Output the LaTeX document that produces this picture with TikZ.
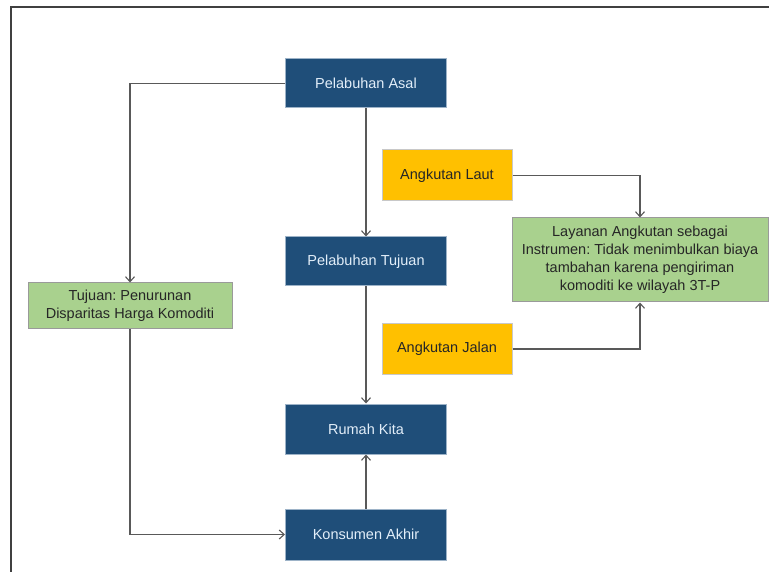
\documentclass[tikz,border=0pt]{standalone}
\usepackage{fontspec}
\setmainfont{Liberation Sans}
\usetikzlibrary{arrows.meta}
\frenchspacing
\definecolor{navy}{HTML}{1F4E79}
\definecolor{navyedge}{HTML}{9DB3C8}
\definecolor{gold}{HTML}{FFC000}
\definecolor{goldedge}{HTML}{C8C8C8}
\definecolor{leaf}{HTML}{A9D18E}
\definecolor{leafedge}{HTML}{9A9A9A}
\definecolor{wire}{HTML}{595959}
\definecolor{paletext}{HTML}{E2EEF9}
\tikzset{
  base/.style={rectangle, font=\fontsize{14.5}{18}\selectfont\frenchspacing, align=center, inner sep=0pt, line width=1pt},
  bluebox/.style={base, fill=navy, draw=navyedge, text=paletext, minimum width=161pt, minimum height=49pt},
  yellowbox/.style={base, fill=gold, draw=goldedge, text=black!85, minimum width=130pt, minimum height=51pt},
  greenbox/.style={base, fill=leaf, draw=leafedge, text=black!85},
  link/.style={draw=wire, line width=1.1pt, -{Straight Barb[length=5pt,width=9pt]}}
}
\begin{document}
\begin{tikzpicture}[x=1pt,y=-1pt]
\useasboundingbox (0,0) rectangle (769,572);
\draw[line width=1.3pt, black!75] (769,7) -- (11,7) -- (11,572);
\node[bluebox] (asal) at (366,83.5) {Pelabuhan Asal};
\node[bluebox] (ptujuan) at (366,261.5) {Pelabuhan Tujuan};
\node[bluebox, minimum height=50pt] (rumah) at (366,429) {Rumah Kita};
\node[bluebox, minimum height=51pt] (konsumen) at (366,534.5) {Konsumen Akhir};
\node[yellowbox] (laut) at (447,175.5) {Angkutan Laut};
\node[yellowbox, minimum height=50pt] (jalan) at (447,349) {Angkutan Jalan};
\node[greenbox, minimum width=256pt, minimum height=84pt] (layanan) at (640,260)
  {Layanan Angkutan sebagai\\Instrumen: Tidak menimbulkan biaya\\tambahan karena pengiriman\\komoditi ke wilayah 3T-P};
\node[greenbox, minimum width=204pt, minimum height=46pt] (goal) at (130,306)
  {Tujuan: Penurunan\\Disparitas Harga Komoditi};
\draw[link] (asal.west) -| (goal.north);
\draw[link] (goal.south) |- (konsumen.west);
\draw[link] (asal.south) -- (ptujuan.north);
\draw[link] (ptujuan.south) -- (rumah.north);
\draw[link] (konsumen.north) -- (rumah.south);
\draw[link] (laut.east) -| (layanan.north);
\draw[link] (jalan.east) -| (layanan.south);
\end{tikzpicture}
\end{document}
